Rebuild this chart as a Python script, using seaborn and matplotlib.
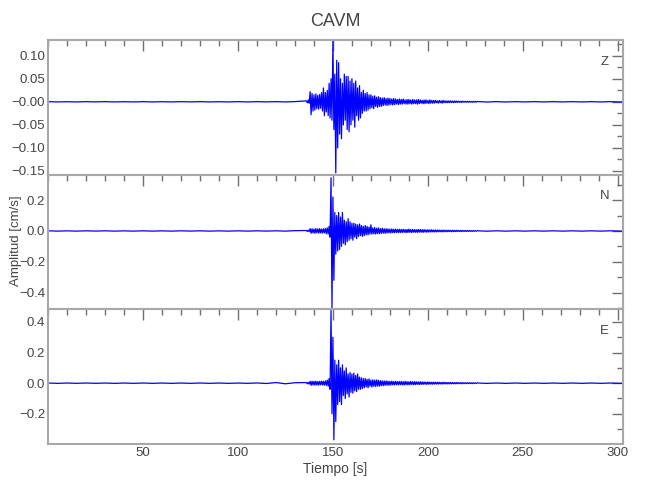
import numpy as np
import pandas as pd
import seaborn as sns
import matplotlib.pyplot as plt
from matplotlib.ticker import MultipleLocator

station = 'CAVM'
components = ['Z', 'N', 'E']

# ruido antes del evento, un valor cada 5 s desde 0 s
z_pre = [0.0003, -0.0003, 0.0002, -0.0003, 0.0003, -0.0002, 0.0003, -0.0003, 0.0002,
         -0.0003, 0.0003, -0.0003, 0.0002, -0.0003, 0.0003, -0.0002, 0.0003, -0.0003,
         0.0002, -0.0003, 0.0003, -0.0003, 0.0003, -0.0002, 0.0003, -0.0003, 0.0004]
n_pre = [0.001, -0.001, 0.0008, -0.001, 0.001, -0.0008, 0.001, -0.001, 0.0008,
         -0.001, 0.001, -0.001, 0.0008, -0.001, 0.001, -0.0008, 0.001, -0.001,
         0.0008, -0.001, 0.001, -0.001, 0.001, -0.0008, 0.001, -0.001, 0.002]
e_pre = [0.001, -0.0012, 0.001, -0.001, 0.0012, -0.001, 0.001, -0.0012, 0.001,
         -0.001, 0.0012, -0.001, 0.001, -0.0012, 0.001, -0.001, 0.0012, -0.001,
         0.001, -0.0012, 0.001, -0.001, 0.0015, -0.002, 0.004, -0.004, 0.003]

# fase fuerte: maximo y minimo por segundo, 136 s a 185 s
z_hi = [0.002, 0.004, 0.022, 0.018, 0.015, 0.017, 0.014, 0.016, 0.020, 0.030,
        0.020, 0.025, 0.040, 0.050, 0.133, 0.060, 0.090, 0.085, 0.050, 0.040,
        0.060, 0.055, 0.055, 0.045, 0.050, 0.040, 0.045, 0.030, 0.035, 0.020,
        0.025, 0.018, 0.020, 0.015, 0.015, 0.012, 0.013, 0.010, 0.011, 0.009,
        0.008, 0.009, 0.007, 0.008, 0.007, 0.006, 0.007, 0.006, 0.005, 0.006]
z_lo = [-0.002, -0.003, -0.028, -0.020, -0.018, -0.015, -0.016, -0.014, -0.020, -0.030,
        -0.022, -0.030, -0.035, -0.040, -0.060, -0.154, -0.100, -0.070, -0.080, -0.050,
        -0.040, -0.060, -0.065, -0.050, -0.040, -0.055, -0.030, -0.040, -0.035, -0.025,
        -0.020, -0.020, -0.018, -0.015, -0.013, -0.015, -0.010, -0.012, -0.010, -0.010,
        -0.008, -0.007, -0.008, -0.007, -0.006, -0.007, -0.006, -0.005, -0.006, -0.005]
n_hi = [0.003, 0.005, 0.015, 0.014, 0.012, 0.015, 0.013, 0.015, 0.012, 0.014,
        0.016, 0.020, 0.030, 0.345, 0.220, 0.120, 0.100, 0.120, 0.090,
        0.120, 0.070, 0.060, 0.080, 0.060, 0.050, 0.050, 0.045, 0.040, 0.045,
        0.035, 0.030, 0.035, 0.030, 0.025, 0.040, 0.020, 0.022, 0.018, 0.020,
        0.015, 0.017, 0.014, 0.015, 0.013, 0.012, 0.013, 0.011, 0.012, 0.010, 0.011]
n_lo = [-0.003, -0.004, -0.015, -0.013, -0.015, -0.012, -0.014, -0.013, -0.014, -0.012,
        -0.018, -0.020, -0.040, -0.500, -0.320, -0.150, -0.130, -0.120, -0.100,
        -0.080, -0.090, -0.070, -0.060, -0.050, -0.060, -0.040, -0.050, -0.035, -0.030,
        -0.035, -0.030, -0.025, -0.025, -0.020, -0.020, -0.018, -0.020, -0.017, -0.018,
        -0.015, -0.014, -0.015, -0.013, -0.012, -0.013, -0.011, -0.012, -0.010, -0.011, -0.010]
e_hi = [0.004, 0.006, 0.012, 0.013, 0.012, 0.013, 0.011, 0.012, 0.013, 0.012,
        0.015, 0.020, 0.030, 0.475, 0.300, 0.150, 0.120, 0.150, 0.100,
        0.120, 0.080, 0.100, 0.060, 0.070, 0.060, 0.065, 0.050, 0.060, 0.040,
        0.035, 0.030, 0.030, 0.025, 0.028, 0.020, 0.022, 0.020, 0.021, 0.019,
        0.016, 0.015, 0.014, 0.015, 0.013, 0.012, 0.013, 0.011, 0.012, 0.010, 0.011]
e_lo = [-0.004, -0.006, -0.014, -0.012, -0.013, -0.012, -0.013, -0.011, -0.012, -0.013,
        -0.014, -0.020, -0.040, -0.200, -0.370, -0.250, -0.140, -0.120, -0.140,
        -0.080, -0.100, -0.070, -0.090, -0.060, -0.065, -0.050, -0.055, -0.040, -0.040,
        -0.035, -0.030, -0.025, -0.030, -0.020, -0.025, -0.020, -0.021, -0.019, -0.020,
        -0.015, -0.016, -0.014, -0.013, -0.014, -0.012, -0.011, -0.012, -0.010, -0.011, -0.010]

# coda: maximo y minimo por segundo, 186 s a 225 s
z_coda_hi = [0.005, 0.006, 0.004, 0.005, 0.005, 0.004, 0.005, 0.004, 0.004, 0.005,
             0.004, 0.003, 0.004, 0.004, 0.003, 0.004, 0.003, 0.003, 0.003, 0.002,
             0.003, 0.002, 0.003, 0.002, 0.002, 0.002, 0.002, 0.0015, 0.002, 0.0015,
             0.0015, 0.001, 0.0015, 0.001, 0.001, 0.001, 0.001, 0.0008, 0.001, 0.0008]
z_coda_lo = [-0.005, -0.004, -0.005, -0.005, -0.004, -0.005, -0.004, -0.004, -0.005, -0.004,
             -0.003, -0.004, -0.004, -0.003, -0.004, -0.003, -0.003, -0.003, -0.002, -0.003,
             -0.002, -0.003, -0.002, -0.002, -0.002, -0.002, -0.0015, -0.002, -0.0015, -0.0015,
             -0.001, -0.0015, -0.001, -0.001, -0.001, -0.001, -0.0008, -0.001, -0.0008, -0.0008]
n_coda_hi = [0.010, 0.011, 0.009, 0.010, 0.012, 0.009, 0.010, 0.009, 0.008, 0.010,
             0.009, 0.008, 0.009, 0.007, 0.008, 0.007, 0.008, 0.006, 0.007, 0.006,
             0.006, 0.005, 0.006, 0.005, 0.005, 0.005, 0.004, 0.005, 0.004, 0.004,
             0.004, 0.003, 0.004, 0.003, 0.003, 0.003, 0.0025, 0.003, 0.0025, 0.002]
n_coda_lo = [-0.010, -0.009, -0.011, -0.010, -0.009, -0.010, -0.008, -0.009, -0.009, -0.008,
             -0.008, -0.009, -0.007, -0.008, -0.007, -0.007, -0.006, -0.007, -0.006, -0.006,
             -0.005, -0.006, -0.005, -0.005, -0.005, -0.004, -0.005, -0.004, -0.004, -0.004,
             -0.003, -0.004, -0.003, -0.003, -0.003, -0.0025, -0.003, -0.0025, -0.002, -0.002]
e_coda_hi = [0.011, 0.010, 0.012, 0.010, 0.009, 0.011, 0.009, 0.010, 0.009, 0.008,
             0.009, 0.008, 0.008, 0.007, 0.008, 0.007, 0.006, 0.007, 0.006, 0.006,
             0.006, 0.005, 0.006, 0.005, 0.005, 0.004, 0.005, 0.004, 0.004, 0.004,
             0.004, 0.003, 0.004, 0.003, 0.003, 0.003, 0.003, 0.0025, 0.003, 0.002]
e_coda_lo = [-0.011, -0.012, -0.010, -0.011, -0.010, -0.009, -0.010, -0.009, -0.008, -0.009,
             -0.008, -0.008, -0.007, -0.008, -0.007, -0.007, -0.007, -0.006, -0.006, -0.006,
             -0.005, -0.006, -0.005, -0.005, -0.005, -0.005, -0.004, -0.004, -0.004, -0.004,
             -0.003, -0.004, -0.003, -0.003, -0.003, -0.003, -0.0025, -0.003, -0.002, -0.002]

# ruido despues del evento, un valor cada 5 s desde 226 s
z_post = [0.0006, -0.0005, 0.0004, -0.0004, 0.0003, -0.0003, 0.0003, -0.0003, 0.0003,
          -0.0003, 0.0003, -0.0003, 0.0003, -0.0003, 0.0003, -0.0003, 0.0003]
n_post = [0.0015, -0.0015, 0.0012, -0.0012, 0.001, -0.001, 0.001, -0.001, 0.001,
          -0.001, 0.001, -0.001, 0.001, -0.001, 0.001, -0.001, 0.001]
e_post = [0.0015, -0.0015, 0.0012, -0.0012, 0.001, -0.001, 0.001, -0.001, 0.001,
          -0.001, 0.001, -0.001, 0.001, -0.001, 0.001, -0.001, 0.001]

# ejes
x_ticks = [50, 100, 150, 200, 250, 300]
x_ticklabels = ['50', '100', '150', '200', '250', '300']
y_ticks = {
    'Z': [-0.15, -0.10, -0.05, 0.0, 0.05, 0.10],
    'N': [-0.4, -0.2, 0.0, 0.2],
    'E': [-0.2, 0.0, 0.2, 0.4],
}
y_ticklabels = {
    'Z': ['\u22120.15', '\u22120.10', '\u22120.05', '\u22120.00', '0.05', '0.10'],
    'N': ['\u22120.4', '\u22120.2', '0.0', '0.2'],
    'E': ['\u22120.2', '0.0', '0.2', '0.4'],
}
y_limits = {'Z': (-0.158, 0.134), 'N': (-0.508, 0.365), 'E': (-0.397, 0.482)}
y_minor = {'Z': 0.025, 'N': 0.1, 'E': 0.1}


def build_trace(pre, hi, lo, coda_hi, coda_lo, post):
    """junta los tramos en una sola serie tiempo-amplitud"""
    t_pre = np.arange(len(pre)) * 5.0
    t_ev = 136.0 + np.arange(len(hi))
    t_co = 186.0 + np.arange(len(coda_hi))
    t_post = 226.0 + 5.0 * np.arange(len(post))
    t = np.concatenate([t_pre,
                        np.column_stack([t_ev, t_ev + 0.5]).ravel(),
                        np.column_stack([t_co, t_co + 0.5]).ravel(),
                        t_post])
    a = np.concatenate([pre,
                        np.column_stack([hi, lo]).ravel(),
                        np.column_stack([coda_hi, coda_lo]).ravel(),
                        post])
    return pd.DataFrame({'t': t, 'amp': a})


traces = {
    'Z': build_trace(z_pre, z_hi, z_lo, z_coda_hi, z_coda_lo, z_post),
    'N': build_trace(n_pre, n_hi, n_lo, n_coda_hi, n_coda_lo, n_post),
    'E': build_trace(e_pre, e_hi, e_lo, e_coda_hi, e_coda_lo, e_post),
}

sns.set_theme(style='white')
plt.rcParams['font.family'] = ['Liberation Sans', 'DejaVu Sans']
plt.rcParams['axes.unicode_minus'] = True

fig, axes = plt.subplots(3, 1, figsize=(6.5, 5), dpi=100, sharex=True)
fig.subplots_adjust(left=0.074, right=0.958, top=0.92, bottom=0.112, hspace=0)

for ax, comp in zip(axes, components):
    sns.lineplot(data=traces[comp], x='t', y='amp', ax=ax, color='#0000ff',
                 linewidth=0.9, estimator=None, sort=False)
    ax.set_xlim(0, 302.6)
    ax.set_ylim(*y_limits[comp])
    ax.set_yticks(y_ticks[comp])
    ax.set_yticklabels(y_ticklabels[comp])
    ax.yaxis.set_minor_locator(MultipleLocator(y_minor[comp]))
    ax.set_xticks(x_ticks)
    ax.xaxis.set_minor_locator(MultipleLocator(10))
    ax.set_xlabel('')
    ax.set_ylabel('')
    ax.tick_params(which='both', direction='in', top=True, right=True,
                   color='#707070', labelcolor='#444444', labelsize=9.5, width=1, pad=2)
    ax.tick_params(which='major', length=8)
    ax.tick_params(which='minor', length=4)
    for sp in ax.spines.values():
        sp.set_color('#a8a8a8')
        sp.set_linewidth(1.5)
    ax.text(0.968, 0.84, comp, transform=ax.transAxes, ha='center', va='center',
            fontsize=9.5, color='#444444')

axes[-1].set_xticklabels(x_ticklabels)
for ax in axes[:-1]:
    ax.tick_params(labelbottom=False)

fig.text(0.516, 0.958, station, ha='center', va='center', fontsize=13, color='#444444')
fig.text(0.516, 0.062, 'Tiempo [s]', ha='center', va='center', fontsize=10, color='#444444')
fig.text(0.024, 0.518, 'Amplitud [cm/s]', ha='center', va='center', rotation=90,
         fontsize=9.5, color='#444444')

plt.savefig('out.png', dpi=100)
